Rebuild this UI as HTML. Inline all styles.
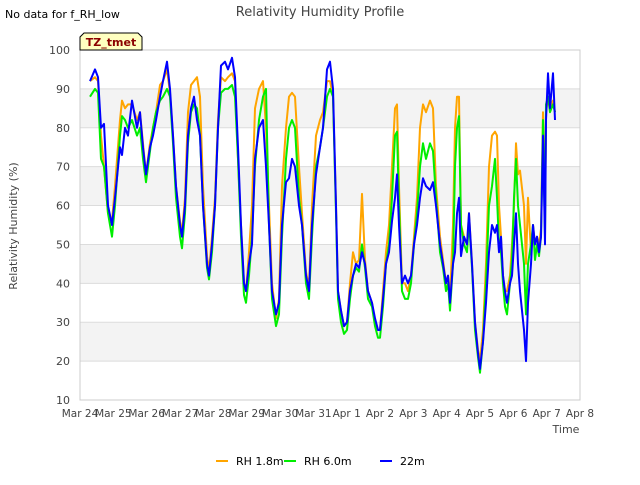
<!DOCTYPE html>
<html><head><meta charset="utf-8"><style>
body{margin:0;background:#fff;font-family:"Liberation Sans","DejaVu Sans",sans-serif}
svg text{font-family:"DejaVu Sans","Liberation Sans",sans-serif}
</style></head><body>
<svg id="c" width="640" height="480" viewBox="0 0 640 480">
<rect x="0" y="0" width="640" height="480" fill="#fff"/>
<text x="320" y="16" text-anchor="middle" font-size="13" fill="#444">Relativity Humidity Profile</text>
<text x="5" y="18" font-size="11" fill="#000">No data for f_RH_low</text>
<g id="plot"></g>
<g>
<path d="M84,33 L138,33 L142,37 L142,50 L80,50 L80,37 Z" fill="#ffffc0" stroke="#000" stroke-width="1"/>
<text x="111" y="46" text-anchor="middle" font-size="11" font-weight="bold" fill="#8b0000">TZ_tmet</text>
</g>
<text x="566" y="433" text-anchor="middle" font-size="11" fill="#444">Time</text>
<text transform="translate(17,226) rotate(-90)" text-anchor="middle" font-size="11" fill="#444">Relativity Humidity (%)</text>
<g id="legend"></g>
</svg>
<script>
const yTicks=[10,20,30,40,50,60,70,80,90,100];
const xTickLabels=["Mar 24","Mar 25","Mar 26","Mar 27","Mar 28","Mar 29","Mar 30","Mar 31","Apr 1","Apr 2","Apr 3","Apr 4","Apr 5","Apr 6","Apr 7","Apr 8"];
const seriesNames=["RH 1.8m","RH 6.0m","22m"];
const times=[0.30,0.45,0.54,0.63,0.72,0.84,0.96,1.05,1.2,1.26,1.35,1.44,1.56,1.71,1.8,1.89,1.98,2.1,2.19,2.28,2.4,2.49,2.61,2.7,2.79,2.88,3.0,3.06,3.15,3.24,3.33,3.42,3.51,3.6,3.69,3.81,3.87,3.96,4.05,4.14,4.23,4.35,4.44,4.56,4.65,4.74,4.83,4.92,4.98,5.07,5.16,5.25,5.37,5.49,5.58,5.67,5.76,5.88,5.97,6.06,6.18,6.27,6.36,6.45,6.57,6.66,6.78,6.87,6.96,7.08,7.2,7.29,7.41,7.5,7.59,7.68,7.74,7.83,7.92,8.01,8.1,8.19,8.28,8.37,8.46,8.55,8.64,8.76,8.85,8.94,9.0,9.09,9.18,9.27,9.36,9.45,9.51,9.57,9.66,9.75,9.84,9.93,10.02,10.11,10.2,10.29,10.38,10.5,10.59,10.68,10.8,10.89,10.98,11.04,11.1,11.19,11.25,11.31,11.37,11.43,11.52,11.61,11.67,11.76,11.85,11.94,12.0,12.09,12.18,12.27,12.36,12.45,12.51,12.57,12.63,12.69,12.75,12.81,12.9,12.96,13.02,13.08,13.14,13.2,13.32,13.38,13.44,13.53,13.59,13.65,13.71,13.77,13.83,13.89,13.95,13.98,14.04,14.1,14.19,14.25];
const rh18=[92,93,92,78,70,58,56,65,82,87,85,86,86,82,84,76,68,76,80,84,91,92,95,89,78,65,56,53,62,84,91,92,93,88,65,47,43,52,62,82,93,92,93,94,92,72,55,40,38,48,60,85,90,92,80,60,40,31,36,65,80,88,89,88,70,58,43,39,60,78,82,84,92,92,88,60,38,33,29,30,40,48,45,46,63,46,38,35,30,28,28,38,48,55,70,85,86,65,40,40,38,42,52,62,80,86,84,87,85,65,52,46,40,42,36,55,80,88,88,55,52,50,58,45,30,23,20,28,45,70,78,79,78,60,52,42,38,38,42,50,60,76,68,69,60,45,62,48,55,50,52,50,54,84,55,84,88,85,87,84];
const rh60=[88,90,89,72,70,58,52,60,78,83,82,80,82,78,80,72,66,74,80,84,87,88,90,88,76,62,52,49,58,76,84,86,85,78,60,44,41,48,60,80,89,90,90,91,88,72,52,37,35,42,52,70,82,88,90,55,36,29,32,52,72,80,82,80,62,55,40,36,52,70,75,80,88,90,88,58,36,30,27,28,36,42,44,43,50,44,36,34,29,26,26,34,45,50,62,78,79,60,38,36,36,40,50,58,70,76,72,76,74,62,48,44,38,40,33,45,70,80,83,55,50,48,56,44,28,21,17,25,40,60,65,72,62,50,48,40,34,32,40,46,62,72,60,55,45,32,45,50,55,46,50,47,52,82,52,86,88,84,86,84];
const rh22=[92,95,93,80,81,60,55,62,75,73,80,78,87,80,84,75,68,75,78,82,88,92,97,90,78,65,55,52,60,78,85,88,82,78,60,45,42,50,60,80,96,97,95,98,93,75,55,40,38,45,50,72,80,82,70,55,38,32,35,55,66,67,72,70,60,55,42,38,55,68,75,80,95,97,90,60,38,33,29,30,38,42,45,44,48,45,38,35,31,28,28,36,45,48,56,62,68,55,40,42,40,42,50,55,62,67,65,64,66,60,50,45,40,42,35,45,48,58,62,47,52,50,58,45,30,22,18,25,35,48,55,53,55,48,52,42,38,35,40,42,50,58,45,38,28,20,35,45,55,50,52,48,52,78,50,82,94,85,94,82];
const colors=["#ffa500","#00ee00","#0000ff"];
const NS="http://www.w3.org/2000/svg";
const X0=80,X1=580,Y0=400,Y1=50;
function xs(t){return X0+(X1-X0)*t/15;}
function ys(v){return Y0-(Y0-Y1)*(v-10)/90;}
function mk(tag,attrs,parent){const e=document.createElementNS(NS,tag);for(const k in attrs)e.setAttribute(k,attrs[k]);parent.appendChild(e);return e;}
const plot=document.getElementById('plot');
// bands
for(let i=0;i<yTicks.length-1;i++){
  if(i%2===1){const b=mk('rect',{x:X0,y:ys(yTicks[i+1]),width:X1-X0,height:ys(yTicks[i])-ys(yTicks[i+1]),fill:'#f3f3f3'},plot);
  
  }
}
yTicks.forEach(v=>{
  const l=mk('line',{x1:X0,x2:X1,y1:ys(v),y2:ys(v),stroke:'#dcdcdc','stroke-width':1},plot);
  
  
  const t=mk('text',{x:X0-10,y:ys(v)+4,'text-anchor':'end','font-size':11,fill:'#444'},plot);
  t.textContent=v;
  
  
});
mk('rect',{x:X0,y:Y1,width:X1-X0,height:Y0-Y1,fill:'none',stroke:'#ccc'},plot);
xTickLabels.forEach((s,i)=>{
  const t=mk('text',{x:xs(i),y:417,'text-anchor':'middle','font-size':10.5,fill:'#444'},plot);
  t.textContent=s;
  
  
});
[rh18,rh60,rh22].forEach((arr,k)=>{
  const d=arr.map((v,i)=>(i?'L':'M')+xs(times[i]).toFixed(1)+','+ys(v).toFixed(1)).join(' ');
  const p=mk('path',{d:d,fill:'none',stroke:colors[k],'stroke-width':2,'stroke-linejoin':'round'},plot);
  
  
});
const leg=document.getElementById('legend');
const lx=[216,284,380];
seriesNames.forEach((s,k)=>{
  const g=mk('g',{},leg);
  
  
  mk('line',{x1:lx[k],x2:lx[k]+12,y1:461,y2:461,stroke:colors[k],'stroke-width':2},g);
  const t=mk('text',{x:lx[k]+20,y:465,'font-size':11,fill:'#000'},g);
  t.textContent=s;
});
</script>
</body></html>
